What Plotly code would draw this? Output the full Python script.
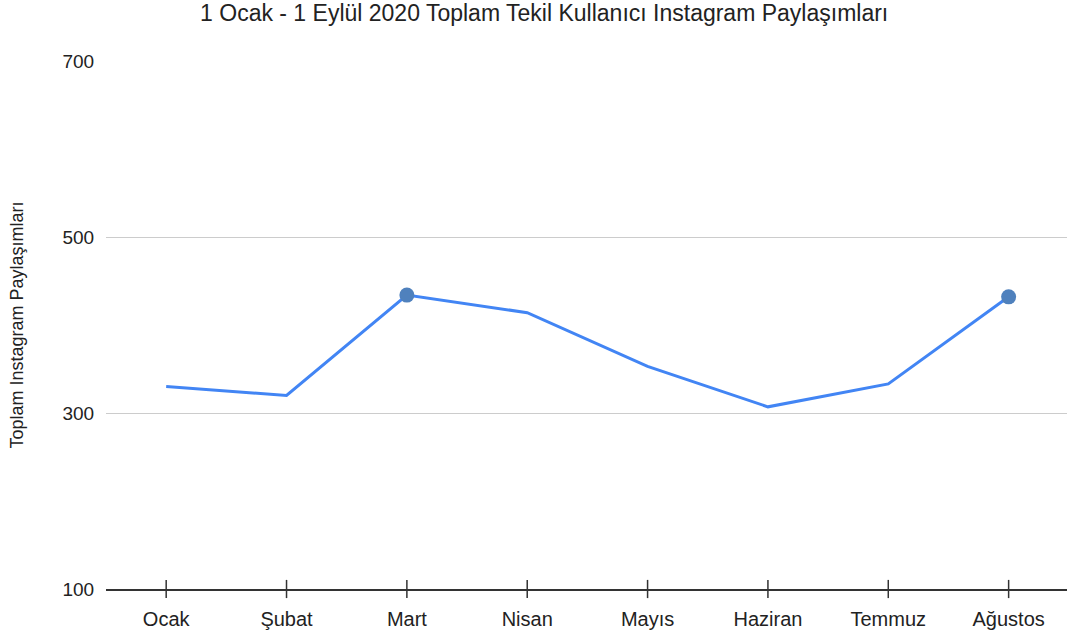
import plotly.graph_objects as go

months = ["Ocak", "Şubat", "Mart", "Nisan", "Mayıs", "Haziran", "Temmuz", "Ağustos"]
posts = [330, 320, 434, 414, 353, 307, 333, 432]
marker_months = ["Mart", "Ağustos"]
marker_posts = [434, 432]
y_ticks = [100, 300, 500, 700]
y_min, y_max = 100, 700

title = "1 Ocak - 1 Eylül 2020 Toplam Tekil Kullanıcı Instagram Paylaşımları"
y_title = "Toplam Instagram Paylaşımları"

font_family = "Liberation Sans, Arial, sans-serif"
text_color = "#222222"

fig = go.Figure()
fig.add_trace(go.Scatter(
    x=months, y=posts, mode="lines",
    line=dict(color="#4285f4", width=3),
    showlegend=False, hoverinfo="x+y",
))
fig.add_trace(go.Scatter(
    x=marker_months, y=marker_posts, mode="markers",
    marker=dict(color="#4f81bd", size=15),
    showlegend=False, hoverinfo="x+y",
))
# tick marks crossing the category axis line
fig.add_trace(go.Scatter(
    x=months, y=[y_min] * len(months), mode="markers",
    marker=dict(symbol="line-ns-open", size=13, color="#333333",
                line=dict(color="#333333", width=1.5)),
    showlegend=False, hoverinfo="skip", cliponaxis=False,
))

fig.update_layout(
    width=1067, height=638,
    margin=dict(l=106, r=0, t=61, b=49),
    paper_bgcolor="white", plot_bgcolor="white",
    font=dict(family=font_family, size=19, color=text_color),
    title=dict(text=title, x=0.51, xanchor="center", y=0.98, yanchor="middle",
               font=dict(size=23, color=text_color)),
)
fig.update_xaxes(
    type="category", range=[-0.5, 7.485],
    showline=True, linecolor="#333333", linewidth=2,
    ticks="outside", ticklen=11, tickcolor="rgba(0,0,0,0)",
    showgrid=False, tickfont=dict(size=20), automargin=False,
)
fig.update_yaxes(
    range=[y_min, y_max], tickvals=y_ticks,
    showgrid=True, gridcolor="#cccccc", gridwidth=1,
    zeroline=False, showline=False, ticks="outside", ticklen=7,
    tickcolor="rgba(0,0,0,0)", tickfont=dict(size=19), automargin=False,
    title=dict(text=y_title, font=dict(size=18), standoff=34),
)

fig.write_html("out.html", config={"displayModeBar": False},
               post_script="document.body.style.margin='0';")
